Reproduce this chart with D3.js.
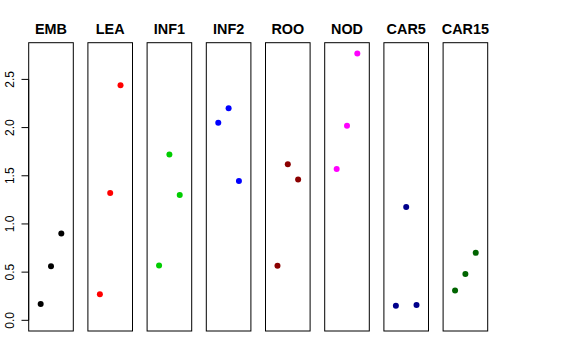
<!DOCTYPE html>
<html><head><meta charset="utf-8">
<script src="https://cdn.jsdelivr.net/npm/d3@7"></script>
<style>body{margin:0;background:#fff}svg{display:block}text{font-family:"Liberation Sans",Arial,sans-serif}</style>
</head><body><svg id="c" width="576" height="360"></svg>
<script>
const categories = ["EMB","LEA","INF1","INF2","ROO","NOD","CAR5","CAR15"];
const colors = ["#000000","#FF0000","#00CD00","#0000FF","#8B0000","#FF00FF","#00008B","#006400"];
const values = [
  [0.17, 0.56, 0.90],
  [0.27, 1.32, 2.44],
  [0.57, 1.72, 1.30],
  [2.05, 2.20, 1.445],
  [0.565, 1.62, 1.46],
  [1.57, 2.02, 2.77],
  [0.15, 1.175, 0.16],
  [0.31, 0.48, 0.70]
];
const yTicks = [0, 0.5, 1, 1.5, 2, 2.5];
const yTickLabels = ["0.0","0.5","1.0","1.5","2.0","2.5"];

(function(){
const svg = d3.select("#c");
const pTop = 42.7, pBottom = 331, left0 = 28.7, step = 59.2, pw = 44.6;
const ymax = d3.max(values.flat());
const y = d3.scaleLinear().domain([-0.04*ymax, 1.04*ymax]).range([pBottom, pTop]);

categories.forEach((cat, i) => {
  const x0 = left0 + i*step;
  const x = d3.scaleLinear().domain([-0.16, 4.16]).range([x0, x0+pw]);
  const g = svg.append("g");
  g.append("rect").attr("x", x0).attr("y", pTop).attr("width", pw).attr("height", pBottom-pTop)
    .attr("fill","none").attr("stroke","#000").attr("stroke-width",1);
  g.append("text").attr("x", x0+pw/2).attr("y", 33.5).attr("text-anchor","middle")
    .attr("font-weight","bold").attr("font-size","14.4px").text(cat);
  g.selectAll("circle").data(values[i]).join("circle")
    .attr("cx", (d,j) => x(j+1)).attr("cy", d => y(d)).attr("r", 3)
    .attr("fill", colors[i]);
});

const ax = svg.append("g");
ax.append("line").attr("x1", left0).attr("x2", left0).attr("y1", y(0)).attr("y2", y(2.5)).attr("stroke","#000");
yTicks.forEach((t, k) => {
  ax.append("line").attr("x1", left0-7.2).attr("x2", left0).attr("y1", y(t)).attr("y2", y(t)).attr("stroke","#000");
  ax.append("text").attr("transform", `translate(${13.5},${y(t)}) rotate(-90)`)
    .attr("text-anchor","middle").attr("font-size","12px").text(yTickLabels[k]);
});
})();
</script></body></html>
